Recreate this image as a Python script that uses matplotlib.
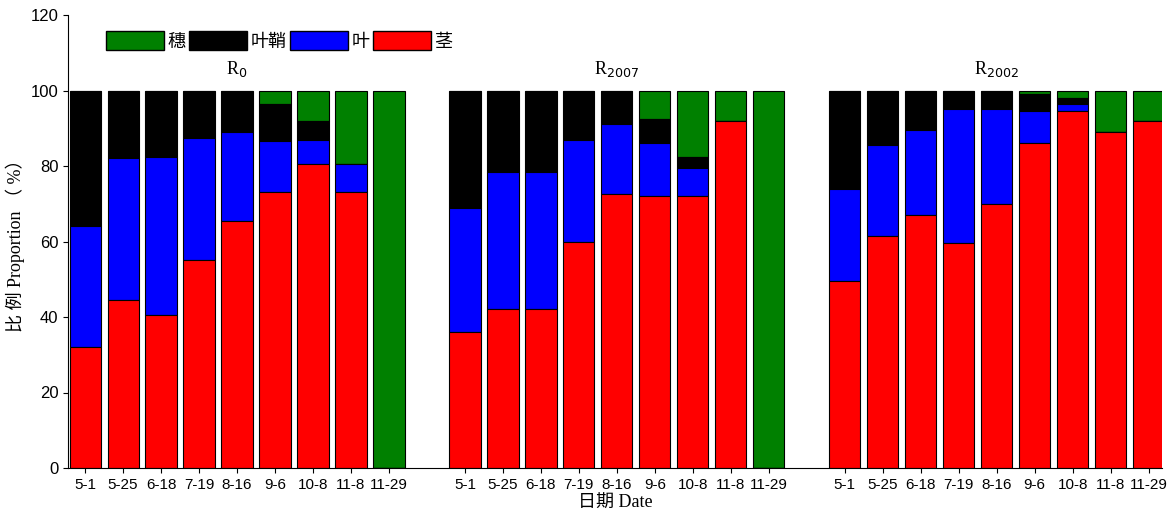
import matplotlib
matplotlib.use("Agg")
import matplotlib.pyplot as plt
import numpy as np
from matplotlib.patches import Patch

plt.rcParams['font.family'] = ['Liberation Serif', 'Noto Sans CJK SC']

dates = ['5-1','5-25','6-18','7-19','8-16','9-6','10-8','11-8','11-29']
groups = ['R$_{0}$', 'R$_{2007}$', 'R$_{2002}$']
stem = [[32,44.5,40.5,55,65.5,73,80.5,73,0],
        [36,42,42,60,72.5,72,72,92,0],
        [49.5,61.5,67,59.5,70,86,94.5,89,92]]
leaf_top = [[64,82,82.5,87.5,89,86.5,87,80.5,0],
            [69,78.5,78.5,87,91,86,79.5,92,0],
            [74,85.5,89.5,95,95,94.5,96.5,89,92]]
sheath_top = [[100,100,100,100,100,96.5,92,80.5,0],
              [100,100,100,100,100,92.5,82.5,92,0],
              [100,100,100,100,100,99,98,89,92]]
total = [[100]*9, [100]*9, [100]*9]

fig = plt.figure(figsize=(11.71,5.24), dpi=100)
ax = fig.add_axes([68/1171, 56/524, (1162-68)/1171, (468-15)/524])
w = 0.82
xs, labels = [], []
for g in range(3):
    x = np.arange(9) + 10*g
    s = np.array(stem[g]); l = np.array(leaf_top[g]); sh = np.array(sheath_top[g]); t = np.array(total[g])
    kw = dict(width=w, edgecolor='black', linewidth=0.8)
    ax.bar(x, t-sh, bottom=sh, color='#008000', **kw)
    ax.bar(x, sh-l, bottom=l, color='black', **kw)
    ax.bar(x, l-s, bottom=s, color='#0000ff', **kw)
    ax.bar(x, s, color='#ff0000', **kw)
    ax.text(4+10*g, 103, groups[g], ha='center', va='bottom', fontsize=13)
    xs += list(x); labels += dates
ax.set_xticks(xs); ax.set_xticklabels(labels, fontsize=11, family=['Liberation Sans'])
ax.set_xlim(-0.45, 28.35)
ax.set_ylim(0, 120)
ax.set_yticks(range(0,121,20))
ax.set_yticklabels([str(v) for v in range(0,121,20)], fontsize=12, family=['Liberation Sans'])
ax.spines['top'].set_visible(False); ax.spines['right'].set_visible(False)
ax.set_ylabel('比 例 Proportion （ %）', fontsize=13)
ax.set_xlabel('日期 Date', fontsize=13, labelpad=2)
handles = [Patch(facecolor=c, edgecolor='black') for c in ['#008000','black','#0000ff','#ff0000']]
ax.legend(handles, ['穗','叶鞘','叶','茎'], ncol=4, loc='upper left', bbox_to_anchor=(0.02,1.0),
          frameon=False, fontsize=13, handlelength=3.2, handleheight=1.2, columnspacing=0.2, handletextpad=0.2)
fig.savefig('out.png')
